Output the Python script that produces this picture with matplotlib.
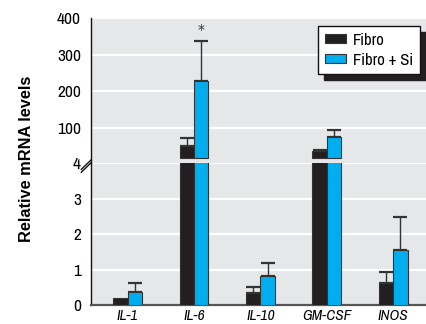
import matplotlib
matplotlib.use('Agg')
import matplotlib.pyplot as plt
from matplotlib.lines import Line2D
import numpy as np

genes = ['IL-1', 'IL-6', 'IL-10', 'GM-CSF', 'INOS']
fibro = np.array([0.19, 51, 0.33, 37, 0.62])
fibro_err = np.array([0.0, 20, 0.19, 3, 0.30])
fibro_si = np.array([0.38, 228, 0.82, 74, 1.56])
fibro_si_err = np.array([0.25, 110, 0.37, 20, 0.92])
series = [('Fibro', fibro, fibro_err, '#231f20'),
          ('Fibro + Si', fibro_si, fibro_si_err, '#00aeef')]

BG = '#e6e7e8'
EDGE = '#333333'
NARROW = ['Archivo Narrow', 'Liberation Sans Narrow', 'DejaVu Sans']
GAP = 17  # upper panel bars start a bit above the break

fig = plt.figure(figsize=(4.27, 3.24), dpi=100)
ax_lo = fig.add_axes([0.2125, 0.0586, 0.7875, 0.4383])
ax_hi = fig.add_axes([0.2125, 0.4969, 0.7875, 0.4475])

x = np.arange(len(genes))
w = 0.218
offsets = [-w / 2, w / 2]

for ax in (ax_lo, ax_hi):
    ax.set_facecolor(BG)
    ax.set_axisbelow(True)
    ax.grid(axis='y', color='white', linewidth=1.6)
    ax.grid(axis='x', visible=False)
    ax.set_xlim(-0.556, 4.51)
    for s in ('top', 'right'):
        ax.spines[s].set_visible(False)
    ax.spines['left'].set_color('#111111')
    ax.spines['left'].set_linewidth(1.0)
    ax.tick_params(length=0, pad=7)

# lower panel: 0 - 4
for (name, vals, errs, col), off in zip(series, offsets):
    ax_lo.bar(x + off, vals, w, color=col, edgecolor=EDGE, linewidth=0.8, label=name, zorder=3)
    small = (vals < 4) & (errs > 0)
    ax_lo.errorbar(x[small] + off, vals[small], yerr=[np.zeros(small.sum()), errs[small]],
                   fmt='none', ecolor='#333333', elinewidth=1.0, capsize=5, capthick=1.6, zorder=2)
ax_lo.set_ylim(0, 4)
ax_lo.set_yticks([0, 1, 2, 3, 4])
ax_lo.spines['bottom'].set_color('#555555')
ax_lo.spines['bottom'].set_linewidth(1.6)
ax_lo.set_xticks(x)
ax_lo.set_xticklabels(genes)
for lab in ax_lo.get_xticklabels():
    lab.set_family(NARROW)
    lab.set_style('italic')
    lab.set_fontsize(11)
ax_lo.tick_params(axis='x', pad=3)

# upper panel: 4 - 400
for (name, vals, errs, col), off in zip(series, offsets):
    big = vals > GAP
    ax_hi.bar(x[big] + off, vals[big] - GAP, w, bottom=GAP, color=col, edgecolor=EDGE,
              linewidth=0.8, zorder=3)
    ax_hi.errorbar(x[big] + off, vals[big], yerr=[np.zeros(big.sum()), errs[big]],
                   fmt='none', ecolor='#333333', elinewidth=1.0, capsize=5, capthick=1.6, zorder=2)
ax_hi.set_ylim(4, 400)
ax_hi.set_yticks([100, 200, 300, 400])
ax_hi.spines['bottom'].set_visible(False)
ax_hi.set_xticks([])

for ax in (ax_lo, ax_hi):
    for lab in ax.get_yticklabels():
        lab.set_family(NARROW)
        lab.set_fontsize(12.5)

# significance star
ax_hi.text(x[1] + offsets[1], 348, '*', ha='center', va='bottom', fontsize=10, color='#333333')

# axis break marks
for dy in (0.0, 0.02):
    ax_lo.add_line(Line2D([-0.028, 0.022], [0.955 - dy, 1.07 - dy], transform=ax_lo.transAxes,
                          color='#111111', linewidth=1.0, clip_on=False))

fig.text(0.063, 0.511, 'Relative mRNA levels', rotation=90, ha='center', va='center',
         fontsize=11.8, fontweight='bold', family=['Liberation Sans', 'DejaVu Sans'])

handles, labels = ax_lo.get_legend_handles_labels()
leg = ax_hi.legend(handles, labels, loc='upper left', bbox_to_anchor=(0.676, 0.945),
                   fancybox=False, framealpha=1, edgecolor='#111111',
                   shadow={'ox': 4.3, 'oy': -4.3, 'color': '#231f20', 'alpha': 1},
                   prop={'family': NARROW, 'size': 12}, handlelength=1.25, handleheight=0.45,
                   handletextpad=0.45, borderpad=0.4, labelspacing=0.3, borderaxespad=0)
leg.get_frame().set_linewidth(1.0)

plt.savefig('out.png', dpi=100)
